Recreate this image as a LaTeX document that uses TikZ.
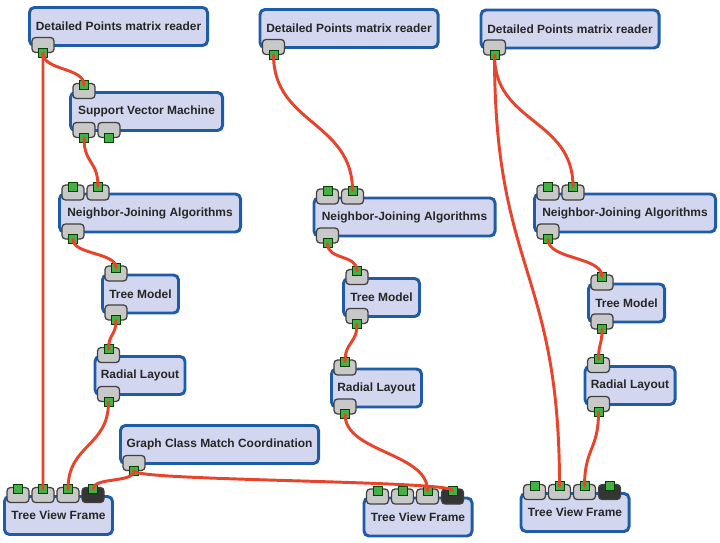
\documentclass[tikz,border=0pt]{standalone}
\usepackage{fontspec}
\setmainfont{Liberation Sans}
\usetikzlibrary{calc}
\definecolor{boxfill}{HTML}{D3D6EF}
\definecolor{boxline}{HTML}{1F5CA8}
\definecolor{sockgray}{HTML}{C8C8C8}
\definecolor{sockdark}{HTML}{353535}
\definecolor{pluggreen}{HTML}{45B045}
\definecolor{wirered}{HTML}{E8442C}
\begin{document}
\begin{tikzpicture}[x=0.025cm,y=-0.025cm,
    box/.style={draw=boxline,fill=boxfill,line width=2.1pt,rounded corners=3.5pt,
      minimum height=0.95cm,inner sep=0pt,font=\fontsize{8.5}{10}\selectfont\bfseries,text=black!85},
    sock/.style={draw=black!75,fill=sockgray,line width=0.9pt,rounded corners=2.5pt,
      minimum width=0.55cm,minimum height=0.375cm,inner sep=0pt},
    plug/.style={draw=green!25!black,fill=pluggreen,line width=0.7pt,minimum size=0.225cm,inner sep=0pt},
    wire/.style={draw=wirered,line width=2.1pt,line cap=round}]
    \useasboundingbox (0,0) rectangle (720,543);

    \node[box,minimum width=4.45cm] (dpA) at (118.5,26.5) {Detailed Points matrix reader};
    \node[box,minimum width=3.8cm] (svm) at (146.5,111.5) {Support Vector Machine};
    \node[box,minimum width=4.525cm] (njA) at (150,213) {Neighbor-Joining Algorithms};
    \node[box,minimum width=1.9cm] (tmA) at (140.5,294) {Tree Model};
    \node[box,minimum width=2.25cm] (rlA) at (140,375.5) {Radial Layout};
    \node[box,minimum width=4.95cm] (gcm) at (219.5,444.5) {Graph Class Match Coordination};
    \node[box,minimum width=2.7cm] (tvA) at (58.5,515.5) {Tree View Frame};

    \node[box,minimum width=4.45cm] (dpB) at (349,28.5) {Detailed Points matrix reader};
    \node[box,minimum width=4.525cm] (njB) at (404.5,217) {Neighbor-Joining Algorithms};
    \node[box,minimum width=1.9cm] (tmB) at (381.5,297.5) {Tree Model};
    \node[box,minimum width=2.25cm] (rlB) at (376.5,388) {Radial Layout};
    \node[box,minimum width=2.7cm] (tvB) at (418,517) {Tree View Frame};

    \node[box,minimum width=4.45cm] (dpC) at (570,29) {Detailed Points matrix reader};
    \node[box,minimum width=4.525cm] (njC) at (625,213) {Neighbor-Joining Algorithms};
    \node[box,minimum width=1.9cm] (tmC) at (626.5,303) {Tree Model};
    \node[box,minimum width=2.25cm] (rlC) at (630,385.5) {Radial Layout};
    \node[box,minimum width=2.7cm] (tvC) at (575,512.5) {Tree View Frame};

    \foreach \b/\m in {svm/1,njA/2,tmA/1,rlA/1,njB/2,tmB/1,rlB/1,njC/2,tmC/1,rlC/1}
      \foreach \k in {1,...,\m} {
        \node[sock] (\b-s\k) at ($(\b.north west)+(-10+25*\k,0)$) {};
        \node[plug] (\b-i\k) at ($(\b.north west)+(-10+25*\k,-6)$) {};
      }
    \foreach \b/\m in {dpA/1,svm/2,njA/1,tmA/1,rlA/1,gcm/1,dpB/1,njB/1,tmB/1,rlB/1,dpC/1,njC/1,tmC/1,rlC/1}
      \foreach \k in {1,...,\m} {
        \node[sock] (\b-t\k) at ($(\b.south west)+(-10+25*\k,-2)$) {};
        \node[plug] (\b-o\k) at ($(\b.south west)+(-10+25*\k,6)$) {};
      }
    \foreach \b in {tvA,tvB,tvC}
      \foreach \k/\c in {1/sockgray,2/sockgray,3/sockgray,4/sockdark} {
        \node[sock,fill=\c] (\b-s\k) at ($(\b.north west)+(-10+25*\k,0)$) {};
        \node[plug] (\b-i\k) at ($(\b.north west)+(-10+25*\k,-6)$) {};
      }

    \draw[wire] (dpA-o1.center) -- (tvA-i2.center);
    \draw[wire] (dpA-o1.center) .. controls +(0,18) and +(0,-18) .. (svm-i1.center);
    \draw[wire] (svm-o1.center) .. controls +(0,26) and +(0,-26) .. (njA-i2.center);
    \draw[wire] (njA-o1.center) .. controls +(0,15) and +(0,-15) .. (tmA-i1.center);
    \draw[wire] (tmA-o1.center) .. controls +(0,15) and +(0,-15) .. (rlA-i1.center);
    \draw[wire] (rlA-o1.center) .. controls +(0,45) and +(0,-45) .. (tvA-i3.center);
    \draw[wire] (gcm-o1.center) .. controls +(0,12) and +(0,-12) .. (tvA-i4.center);
    \draw[wire] (gcm-o1.center) .. controls +(0,10) and +(0,-10) .. (tvB-i4.center);

    \draw[wire] (dpB-o1.center) .. controls +(0,69) and +(0,-69) .. (njB-i2.center);
    \draw[wire] (njB-o1.center) .. controls +(0,17) and +(0,-17) .. (tmB-i1.center);
    \draw[wire] (tmB-o1.center) .. controls +(0,20) and +(0,-20) .. (rlB-i1.center);
    \draw[wire] (rlB-o1.center) .. controls +(0,38) and +(0,-38) .. (tvB-i3.center);

    \draw[wire] (dpC-o1.center) .. controls +(0,68) and +(0,-68) .. (njC-i2.center);
    \draw[wire] (dpC-o1.center) .. controls +(0,217) and +(0,-217) .. (tvC-i2.center);
    \draw[wire] (njC-o1.center) .. controls +(0,20) and +(0,-20) .. (tmC-i1.center);
    \draw[wire] (tmC-o1.center) .. controls +(0,16) and +(0,-16) .. (rlC-i1.center);
    \draw[wire] (rlC-o1.center) .. controls +(0,38) and +(0,-38) .. (tvC-i3.center);
  \end{tikzpicture}
\end{document}
